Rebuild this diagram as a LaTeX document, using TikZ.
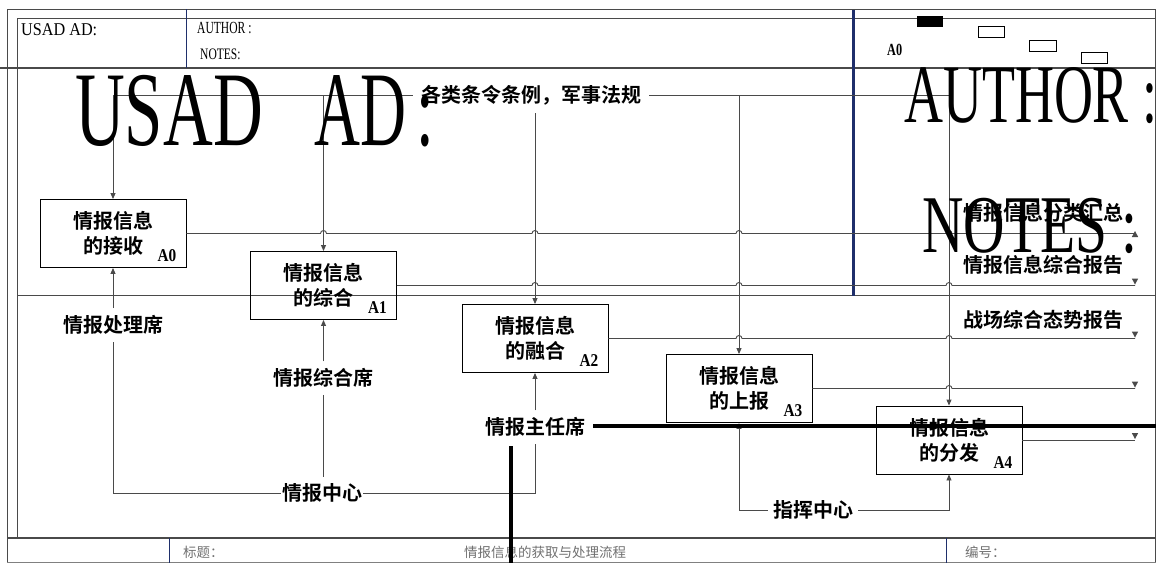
\documentclass[tikz,border=0pt]{standalone}
\usepackage{fontspec}
\usepackage{graphicx}
\usetikzlibrary{arrows.meta,calc}
\setmainfont{Liberation Serif}
\newfontfamily\cjk{Noto Sans CJK SC}[BoldFont={Noto Sans CJK SC Bold}]
\definecolor{ln}{HTML}{4A4A4A}
\definecolor{navy}{HTML}{1F2F6B}
\definecolor{gtxt}{HTML}{707070}
\newcommand\tipdown[1]{\fill[ln] (#1) ++(0pt,1pt) -- ++(3.2pt,6pt) -- ++(-6.4pt,0pt) -- cycle;}
\newcommand\tipup[1]{\fill[ln] (#1) ++(0pt,2.5pt) -- ++(3.2pt,-6pt) -- ++(-6.4pt,0pt) -- cycle;}
\begin{document}
\begin{tikzpicture}[x=1pt,y=-1pt,
  frame/.style={draw=ln,line width=1pt},
  conn/.style={draw=ln,line width=0.9pt},
  arr/.style={conn,-{Triangle[length=6pt,width=5pt]}},
  hop/.style={insert path={arc[start angle=180,end angle=0,radius=3pt]}},
  fbox/.style={draw=black,line width=0.9pt,minimum width=146pt,minimum height=68pt,inner sep=0pt,align=center,font=\cjk\bfseries\fontsize{20}{25}\selectfont},
  lab/.style={font=\cjk\bfseries\fontsize{20}{24}\selectfont,inner xsep=2pt,inner ysep=7pt},
  boxid/.style={anchor=base east,inner sep=0pt,font=\bfseries\fontsize{18}{18}\selectfont},
  foot/.style={inner sep=0pt,text=gtxt,font=\cjk\fontsize{13.5}{14}\selectfont},
  hdr/.style={anchor=base west,inner sep=0pt},
  big/.style={anchor=base west,inner sep=0pt}]
\useasboundingbox (0,0) rectangle (1156,563);
% ---------- frame ----------
\draw[frame] (7,9) -- (1156,9);
\draw[frame] (17,18) -- (1156,18);
\draw[frame] (7,9) -- (7,563);
\draw[frame] (17,18) -- (17,538);
\draw[frame] (1155,9) -- (1155,563);
\draw[draw=ln,line width=1.5pt] (0,68) -- (1156,68);
\draw[frame] (17,295) -- (1156,295);
\draw[draw=ln,line width=1.8pt] (7,538) -- (1156,538);
\draw[draw=gray,line width=1pt] (7,562.5) -- (1156,562.5);
\draw[navy,line width=0.8pt] (186,9) -- (186,68);
\draw[navy,line width=0.8pt] (169,538) -- (169,563);
\draw[navy,line width=0.8pt] (946,538) -- (946,563);
\draw[navy,line width=3pt] (853,10) -- (853,296);
% header contents
\node[hdr] (h1) at (21,35) {\scalebox{0.9}[1]{\fontsize{18}{18}\selectfont USAD AD:}};
\node[hdr] (h2) at (197,33) {\scalebox{0.68}[1]{\fontsize{17}{17}\selectfont AUTHOR :}};
\node[hdr] (h3) at (200,59) {\scalebox{0.72}[1]{\fontsize{16}{16}\selectfont NOTES:}};
\node[hdr] (h4) at (887,55) {\scalebox{0.72}[1]{\bfseries\fontsize{17}{17}\selectfont A0}};
\fill[black] (917,16) rectangle (943,27);
\draw[black,line width=0.8pt] (978,26) rectangle (1004,37);
\draw[black,line width=0.8pt] (1029,40) rectangle (1056,51);
\draw[black,line width=0.8pt] (1081,52) rectangle (1107,63);
% footer
\node[foot,anchor=west] (f1) at (183,552) {标题：};
\node[foot] (f2) at (545,552) {情报信息的获取与处理流程};
\node[foot,anchor=west] (f3) at (965,552) {编号：};
% ---------- function boxes ----------
\node[fbox] (A0) at (113,233.5) {情报信息\\的接收};
\node[fbox] (A1) at (323.5,285.5) {情报信息\\的综合};
\node[fbox] (A2) at (535,338.5) {情报信息\\的融合};
\node[fbox] (A3) at (739,388.5) {情报信息\\的上报};
\node[fbox] (A4) at (949,440) {情报信息\\的分发};
\foreach \b/\t in {A0/A0,A1/A1,A2/A2,A3/A3,A4/A4}{
  \node[boxid] (id\b) at ($(\b.south east)+(-10pt,6pt)$) {\scalebox{0.85}[1]{\t}};
}
% ---------- labels ----------
\node[lab,inner xsep=8pt] (ctl) at (531,95) {各类条令条例，军事法规};
\node[lab] (p0) at (113,325) {情报处理席};
\node[lab] (p1) at (323.5,378) {情报综合席};
\node[lab] (p2) at (535,427) {情报主任席};
\node[lab,inner xsep=1pt,inner ysep=6pt] (m0) at (322,493) {情报中心};
\node[lab,inner xsep=5pt] (m1) at (813,510) {指挥中心};
\node[lab] (l0) at (1043,213) {情报信息分类汇总};
\node[lab] (l1) at (1043,265) {情报信息综合报告};
\node[lab] (l2) at (1043,320) {战场综合态势报告};
\coordinate (R) at (1135,0);
\coordinate (c2) at (535,113);
\coordinate (o0) at (A0.east -| R);
\coordinate (o1) at (A1.east -| R);
\coordinate (o2) at (A2.east -| R);
\coordinate (o3) at (A3.east -| R);
\coordinate (o4) at (A4.east -| R);
% ---------- controls ----------
\draw[arr] (ctl.west) -| (A0.north);
\draw[arr] (ctl.west -| A1.north) -- (A1.north);
\draw[arr] (ctl.east) -| (A4.north);
\draw[arr] (ctl.east -| A3.north) -- (A3.north);
\draw[arr] (c2) -- (A2.north);
% ---------- outputs ----------
\draw[conn] (A0.east) -- ($(A0.east -| A1.north)+(-3pt,0pt)$) [hop]
  -- ($(A0.east -| A2.north)+(-3pt,0pt)$) [hop]
  -- ($(A0.east -| A3.north)+(-3pt,0pt)$) [hop]
  -- ($(A0.east -| A4.north)+(-3pt,0pt)$) [hop] -- (o0);
\tipup{o0}
\draw[conn] (A1.east) -- ($(A1.east -| A2.north)+(-3pt,0pt)$) [hop]
  -- ($(A1.east -| A3.north)+(-3pt,0pt)$) [hop]
  -- ($(A1.east -| A4.north)+(-3pt,0pt)$) [hop] -- (o1);
\tipdown{o1}
\draw[conn] (A2.east) -- ($(A2.east -| A3.north)+(-3pt,0pt)$) [hop]
  -- ($(A2.east -| A4.north)+(-3pt,0pt)$) [hop] -- (o2);
\tipdown{o2}
\draw[conn] (A3.east) -- ($(A3.east -| A4.north)+(-3pt,0pt)$) [hop] -- (o3);
\tipdown{o3}
\draw[conn] (A4.east) -- (o4);
\tipdown{o4}
% ---------- mechanisms ----------
\draw[arr] (p0.north) -- (A0.south);
\draw[conn] (m0.west) -| (p0.south);
\draw[arr] (p1.north) -- (A1.south);
\draw[conn] (p1.south) -- (p1.south |- m0.north);
\draw[arr] (p2.north) -- (A2.south);
\draw[conn] (m0.east) -| (p2.south);
\draw[arr] (m1.west) -| (A3.south);
\draw[arr] (m1.east) -| (A4.south);
% thick stray lines
\draw[black,line width=3.5pt] (593,426) -- (1156,426);
\draw[black,line width=3.5pt] (511,446) -- (511,563);
% ---------- big texts ----------
\node[big] (b1) at (75,145) {\scalebox{0.65}[1]{\fontsize{106}{106}\selectfont USAD}\hspace{52pt}\scalebox{0.6}[1]{\fontsize{106}{106}\selectfont AD\hspace{16pt}:}};
\node[big] (b2) at (904,122) {\scalebox{0.65}[1]{\fontsize{83}{83}\selectfont AUTHOR :}};
\node[big] (b3) at (922,252) {\scalebox{0.70}[1]{\fontsize{82}{82}\selectfont NOTES :}};
\end{tikzpicture}
\end{document}
